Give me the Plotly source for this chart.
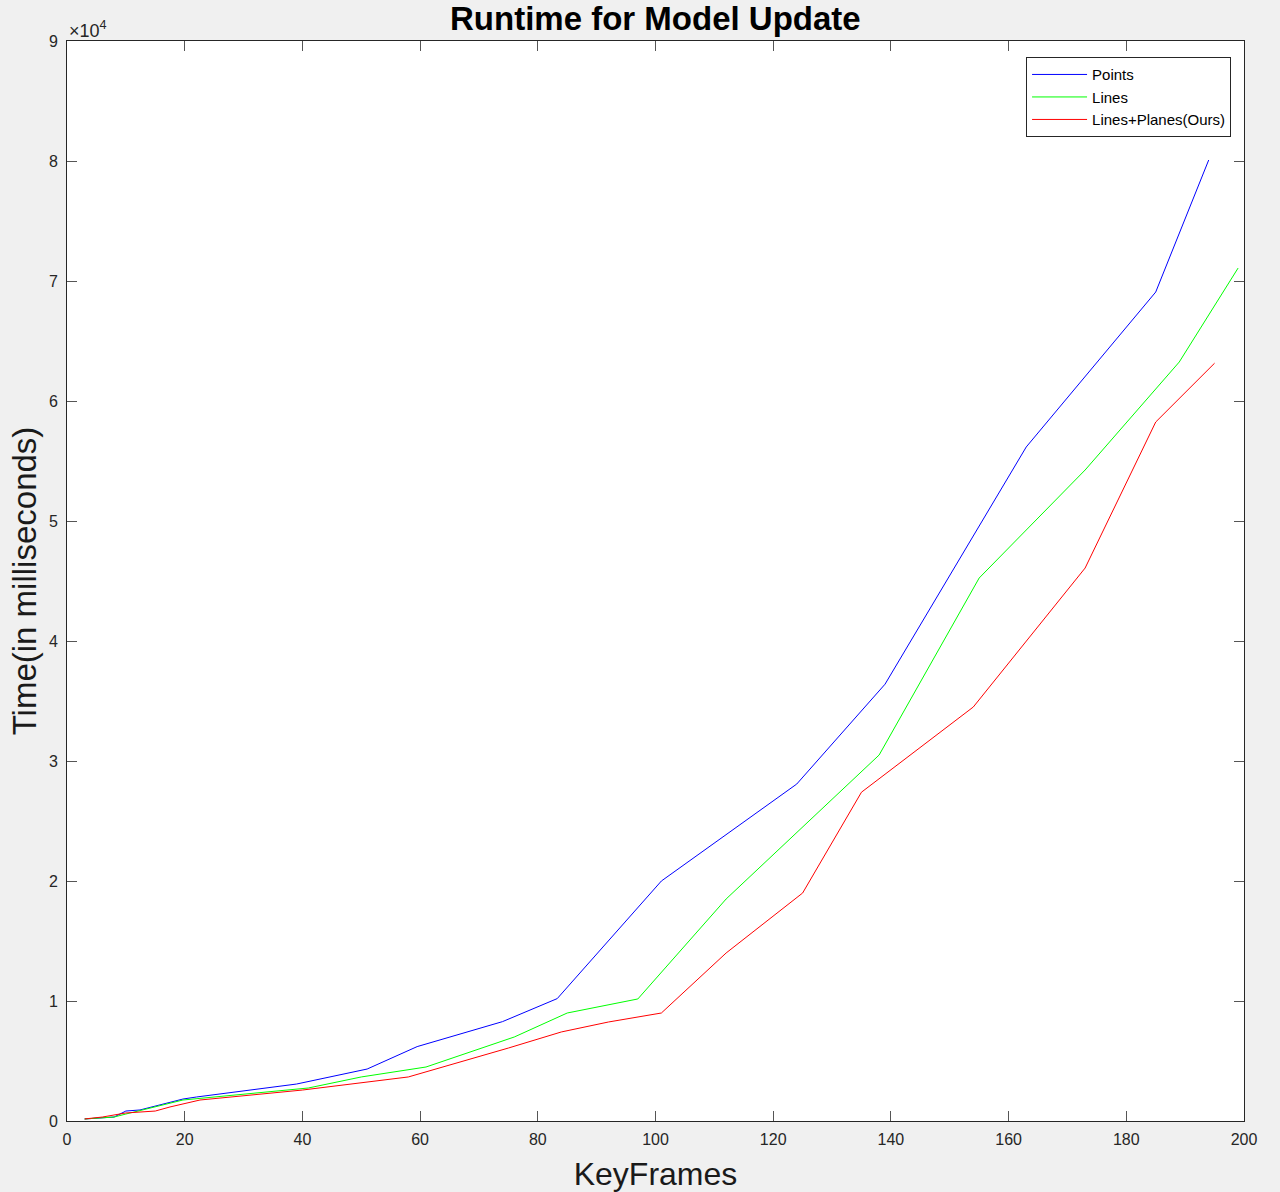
import plotly.graph_objects as go

# KeyFrames (x) and runtime in milliseconds (y)
points_x = [3, 8, 10, 12.4, 19.7, 22, 39, 51, 59.5, 74, 83.3, 101, 124, 139, 163, 185, 194]
points_y = [170, 330, 830, 920, 1830, 2000, 3080, 4330, 6200, 8280, 10200, 20000, 28080, 36400, 56170, 69080, 80080]

lines_x = [3, 8, 10, 17.5, 19.7, 41, 50, 61, 76, 85, 97, 112, 138, 155, 173, 189, 199]
lines_y = [170, 330, 580, 1500, 1750, 2750, 3670, 4500, 7000, 9000, 10170, 18500, 30500, 45250, 54250, 63250, 71080]

ours_x = [3, 6, 10, 15, 17.5, 22.6, 40, 53, 58, 75, 84, 92, 101, 112, 125, 135, 154, 173, 185, 195]
ours_y = [170, 330, 670, 830, 1170, 1750, 2580, 3330, 3670, 6080, 7420, 8250, 9000, 14000, 19000, 27400, 34500, 46080, 58250, 63150]

y_ticks = [i * 10000 for i in range(10)]
y_labels = [str(i) for i in range(10)]

_FONT = dict(family="Liberation Sans, Arial, sans-serif", color="#262626")
_AX = "#262626"

fig = go.Figure()
for name, xs, ys, col in [
    ("Points", points_x, points_y, "#0000ff"),
    ("Lines", lines_x, lines_y, "#00ff00"),
    ("Lines+Planes(Ours)", ours_x, ours_y, "#ff0000"),
]:
    fig.add_scatter(x=xs, y=ys, name=name, mode="lines", line=dict(color=col, width=1))

axis_common = dict(
    showgrid=False, zeroline=False, showline=True, linecolor=_AX, linewidth=1,
    mirror="ticks", ticks="inside", ticklen=10, tickcolor="#555", tickwidth=1,
    tickfont=dict(_FONT, size=16), automargin=False,
)

fig.update_layout(
    width=1280, height=1192,
    paper_bgcolor="#f0f0f0", plot_bgcolor="#ffffff",
    margin=dict(l=67, r=36, t=41, b=71),
    font=_FONT, showlegend=True,
    title=dict(text="<b>Runtime for Model Update</b>", x=0.512, xanchor="center",
               y=1 - 18 / 1192, yanchor="middle", yref="container",
               font=dict(_FONT, size=33, color="#000")),
    xaxis=dict(axis_common, range=[0, 200], dtick=20, ticklabelstandoff=4,
               title=dict(text="KeyFrames", font=dict(_FONT, size=32, color="#1a1a1a"), standoff=16)),
    yaxis=dict(axis_common, range=[0, 90000], tickvals=y_ticks, ticktext=y_labels,
               ticklabelstandoff=5,
               title=dict(text="Time(in milliseconds)", font=dict(_FONT, size=33, color="#1a1a1a"), standoff=2)),
    legend=dict(x=0.989, y=0.985, xanchor="right", yanchor="top",
                bgcolor="#ffffff", bordercolor="#262626", borderwidth=1,
                font=dict(_FONT, size=15, color="#000"), tracegroupgap=0,
                itemwidth=55),
)

fig.add_annotation(xref="paper", yref="paper", x=0, y=1, xanchor="left", yanchor="bottom",
                   text="×10<sup>4</sup>", showarrow=False, yshift=-2,
                   font=dict(_FONT, size=18))

fig.write_html(
    "out.html",
    config={"displayModeBar": False},
    post_script="document.body.style.margin='0';document.body.style.background='#f0f0f0';",
)
